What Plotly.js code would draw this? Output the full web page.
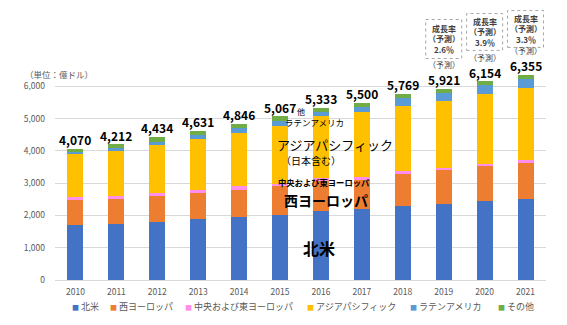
<!DOCTYPE html>
<html>
<head>
<meta charset="utf-8">
<script src="https://cdn.plot.ly/plotly-3.0.1.min.js"></script>
<style>
  html, body { margin: 0; padding: 0; background: #fff; }
  #chart { width: 567px; height: 325px; }
</style>
</head>
<body>
<div id="chart"></div>
<script>
// 地域別市場規模（億ドル）
const years = ['2010','2011','2012','2013','2014','2015','2016','2017','2018','2019','2020','2021'];
const northAmerica  = [1700, 1730, 1800, 1880, 1945, 2020, 2130, 2200, 2280, 2350, 2460, 2525];
const westEurope    = [ 790,  795,  815,  825,  855,  880,  945,  890, 1005, 1050, 1065, 1105];
const centralEast   = [  70,   80,   90,   90,  100,   90,   80,   90,   85,   75,   75,   80];
const asiaPacific   = [1330, 1390, 1480, 1570, 1665, 1780, 1920, 2030, 2035, 2085, 2170, 2225];
const latinAmerica  = [  85,   95,  105,  125,  145,  155,  145,  165,  225,  230,  260,  290];
const others        = [  95,  122,  144,  141,  136,  142,  113,  125,  139,  131,  124,  130];

const seriesNames = ['北米', '西ヨーロッパ', '中央および東ヨーロッパ', 'アジアパシフィック', 'ラテンアメリカ', 'その他'];
const seriesColors = ['#4472C4', '#ED7D31', '#FF8FEA', '#FFC000', '#5B9BD5', '#70AD47'];

// 予測年の成長率
const forecastYears = ['2019', '2020', '2021'];
const growthRates = ['2.6％', '3.9％', '3.3％'];

// 目盛
const yTicks = [0, 1000, 2000, 3000, 4000, 5000, 6000];

const FONT = '"Noto Sans CJK JP", "Noto Sans", sans-serif';
const seriesValues = [northAmerica, westEurope, centralEast, asiaPacific, latinAmerica, others];

const traces = seriesValues.map((vals, i) => ({
  type: 'bar',
  x: years,
  y: vals,
  name: seriesNames[i],
  marker: { color: seriesColors[i], line: { width: 0 } },
  showlegend: false,
  hoverinfo: 'skip'
}));

const totals = years.map((_, j) => seriesValues.reduce((s, arr) => s + arr[j], 0));

const annotations = [];

// 合計値ラベル
years.forEach((yr, j) => {
  annotations.push({
    x: j, y: totals[j], xref: 'x', yref: 'y',
    text: totals[j].toLocaleString('en-US'),
    showarrow: false, yanchor: 'middle', yshift: 9,
    font: { family: FONT, size: 12, color: '#000', weight: 'bold' }
  });
});

// 予測年の注記と成長率ボックス
const boxTop    = [1.223, 1.251, 1.265];
const boxBottom = [1.040, 1.078, 1.092];
const shapes = [];
forecastYears.forEach((yr, k) => {
  const j = years.indexOf(yr);
  annotations.push({
    x: j, y: totals[j], xref: 'x', yref: 'y',
    text: '（予測）', showarrow: false, yanchor: 'middle', yshift: 24,
    font: { family: FONT, size: 8, color: '#404040' }
  });
  annotations.push({
    x: j, y: (boxTop[k] + boxBottom[k]) / 2, xref: 'x', yref: 'paper',
    text: '成長率<br>（予測）<br>' + growthRates[k], showarrow: false,
    yanchor: 'middle', align: 'center',
    font: { family: FONT, size: 8, color: '#404040', weight: 'bold' }
  });
  shapes.push({
    type: 'rect', xref: 'x', yref: 'paper',
    x0: j - 0.44, x1: j + 0.44,
    y0: boxBottom[k], y1: boxTop[k],
    line: { color: '#A6A6A6', width: 1, dash: 'dot' },
    fillcolor: 'rgba(0,0,0,0)'
  });
});

// 系列名の図中ラベル
const inlineLabels = [
  { text: '他', x: 0.501, y: 0.790, size: 8, weight: 'normal' },
  { text: 'ラテンアメリカ', x: 0.5295, y: 0.742, size: 8.5, weight: 'normal' },
  { text: 'アジアパシフィック', x: 0.570, y: 0.638, size: 13, weight: 'normal' },
  { text: '（日本含む）', x: 0.5214, y: 0.563, size: 10, weight: 'normal' },
  { text: '中央および東ヨーロッパ', x: 0.548, y: 0.459, size: 8.3, weight: 'bold' },
  { text: '西ヨーロッパ', x: 0.552, y: 0.375, size: 14, weight: 'bold' },
  { text: '北米', x: 0.5377, y: 0.150, size: 16, weight: 'bold' }
];
inlineLabels.forEach(l => {
  annotations.push({
    x: l.x, y: l.y, xref: 'paper', yref: 'paper', text: l.text,
    showarrow: false, xanchor: 'center', yanchor: 'middle',
    font: { family: FONT, size: l.size, color: '#000', weight: l.weight }
  });
});

// 凡例（色付きの四角と系列名）
const legendX = [0.0305, 0.108, 0.2607, 0.5092, 0.7189, 0.8982];
seriesNames.forEach((nm, i) => {
  annotations.push({
    x: legendX[i], y: -0.1265, xref: 'paper', yref: 'paper',
    text: '<span style="font-size:7px;color:' + seriesColors[i] + '">■</span> ' + nm,
    showarrow: false, xanchor: 'left', yanchor: 'middle',
    font: { family: FONT, size: 9, color: '#595959' }
  });
});

// 単位
annotations.push({
  x: -0.065, y: 0.9275, xref: 'paper', yref: 'paper', text: '（単位：億ドル）',
  showarrow: false, xanchor: 'left', yanchor: 'bottom',
  font: { family: FONT, size: 8.5, color: '#595959' }
});

const layout = {
  width: 567, height: 325,
  margin: { l: 55, r: 21, t: 67, b: 45 },
  barmode: 'stack',
  bargap: 0.61,
  paper_bgcolor: '#fff', plot_bgcolor: '#fff',
  font: { family: FONT, color: '#595959' },
  xaxis: {
    type: 'category',
    range: [-0.5, 11.5],
    showgrid: false, showline: false, ticks: '',
    ticklabelstandoff: 5,
    tickfont: { family: FONT, size: 8.5, color: '#595959' }
  },
  yaxis: {
    range: [0, 6600], tickmode: 'array', tickvals: yTicks, tickformat: ',d',
    showgrid: true, gridcolor: '#D9D9D9', gridwidth: 1,
    zeroline: true, zerolinecolor: '#D9D9D9', zerolinewidth: 1,
    showline: false, ticks: '',
    ticklabelstandoff: 9,
    tickfont: { family: FONT, size: 8.5, color: '#595959' }
  },
  showlegend: false,
  annotations: annotations,
  shapes: shapes
};

Plotly.newPlot('chart', traces, layout, { displayModeBar: false, staticPlot: true });
</script>
</body>
</html>
